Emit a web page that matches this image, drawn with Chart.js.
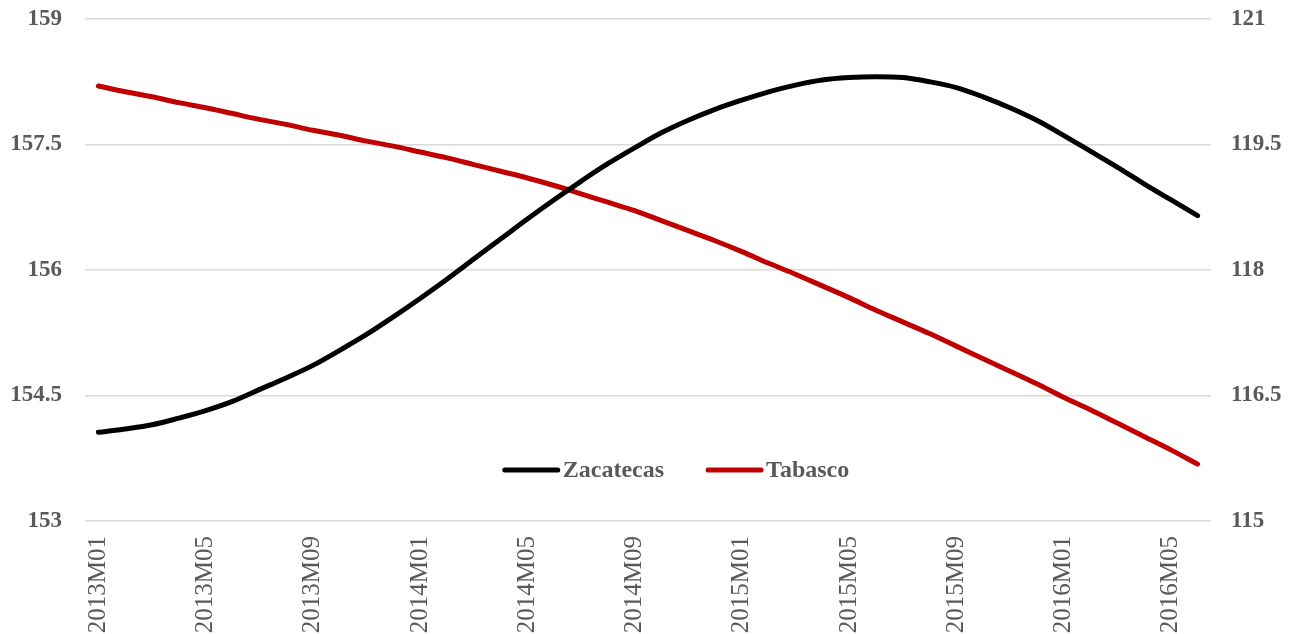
<!DOCTYPE html>
<html>
<head>
<meta charset="utf-8">
<script src="https://cdn.jsdelivr.net/npm/chart.js@4/dist/chart.umd.min.js"></script>
<style>
  html, body { margin: 0; padding: 0; background: #fff; }
  #wrap { width: 1294px; height: 634px; }
</style>
</head>
<body>
<div id="wrap"><canvas id="chart" width="1294" height="634"></canvas></div>
<script>
// Meses 2013M01 .. 2016M06
const months = [
  '2013M01','2013M02','2013M03','2013M04','2013M05','2013M06','2013M07','2013M08','2013M09','2013M10','2013M11','2013M12',
  '2014M01','2014M02','2014M03','2014M04','2014M05','2014M06','2014M07','2014M08','2014M09','2014M10','2014M11','2014M12',
  '2015M01','2015M02','2015M03','2015M04','2015M05','2015M06','2015M07','2015M08','2015M09','2015M10','2015M11','2015M12',
  '2016M01','2016M02','2016M03','2016M04','2016M05','2016M06'
];

// eje izquierdo
const zacatecas = [
  154.06, 154.10, 154.15, 154.23, 154.32, 154.43, 154.57, 154.71, 154.86, 155.04, 155.23, 155.44,
  155.66, 155.89, 156.13, 156.37, 156.61, 156.84, 157.06, 157.27, 157.46, 157.64, 157.79, 157.92,
  158.03, 158.13, 158.21, 158.27, 158.30, 158.31, 158.30, 158.25, 158.18, 158.07, 157.94, 157.79,
  157.61, 157.42, 157.23, 157.03, 156.84, 156.65
];

// eje derecho
const tabasco = [
  120.20, 120.13, 120.07, 120.00, 119.94, 119.87, 119.80, 119.74, 119.67, 119.61, 119.54, 119.48,
  119.41, 119.34, 119.26, 119.18, 119.10, 119.01, 118.91, 118.81, 118.71, 118.59, 118.47, 118.35,
  118.22, 118.08, 117.95, 117.81, 117.67, 117.52, 117.38, 117.24, 117.09, 116.94, 116.79, 116.64,
  116.48, 116.33, 116.17, 116.01, 115.85, 115.68
];

const leftTicks = [153, 154.5, 156, 157.5, 159];
const rightTicks = [115, 116.5, 118, 119.5, 121];

const gray = '#595959';
const serif = "'Liberation Serif', 'Times New Roman', serif";

// leyenda dentro del área de trazado
const innerLegend = {
  id: 'innerLegend',
  afterDraw(chart) {
    const ctx = chart.ctx;
    const area = chart.chartArea;
    const items = chart.data.datasets;
    const lineW = 55, gapText = 5, gapItem = 42;
    ctx.save();
    ctx.font = 'bold 24px ' + serif;
    const widths = items.map((d) => lineW + gapText + ctx.measureText(d.label).width);
    const total = widths.reduce((a, b) => a + b, 0) + gapItem * (items.length - 1);
    let x = (area.left + area.right) / 2 + 28 - total / 2;
    const y = area.bottom - 51;
    items.forEach((d, i) => {
      ctx.strokeStyle = d.borderColor;
      ctx.lineWidth = 5;
      ctx.lineCap = 'round';
      ctx.beginPath();
      ctx.moveTo(x + 2, y);
      ctx.lineTo(x + lineW, y);
      ctx.stroke();
      ctx.fillStyle = gray;
      ctx.textBaseline = 'middle';
      ctx.textAlign = 'left';
      ctx.fillText(d.label, x + lineW + gapText, y + 1);
      x += widths[i] + gapItem;
    });
    ctx.restore();
  }
};

// ancho fijo de los ejes verticales, sin el relleno extra arriba/abajo
const fixY = (w) => (s) => {
  s.width = w;
  s.paddingTop = 0;
  s.paddingBottom = 0;
};

new Chart(document.getElementById('chart'), {
  type: 'line',
  data: {
    labels: months,
    datasets: [
      { label: 'Zacatecas', data: zacatecas, yAxisID: 'y', borderColor: '#000000', borderWidth: 5, pointRadius: 0, tension: 0.35, borderCapStyle: 'round', borderJoinStyle: 'round' },
      { label: 'Tabasco', data: tabasco, yAxisID: 'y1', borderColor: '#C00000', borderWidth: 5, pointRadius: 0, tension: 0.35, borderCapStyle: 'round', borderJoinStyle: 'round' }
    ]
  },
  options: {
    responsive: false,
    animation: false,
    layout: { padding: { top: 19, bottom: 0, left: 0, right: 0 } },
    plugins: { legend: { display: false }, tooltip: { enabled: false } },
    scales: {
      x: {
        offset: true,
        grid: { display: false, drawTicks: false },
        border: { display: false },
        ticks: {
          autoSkip: false,
          minRotation: 90,
          maxRotation: 90,
          padding: 15,
          color: gray,
          font: { family: serif, size: 25 },
          callback: (v, i) => (i % 4 === 0 ? months[i] : '')
        },
        afterFit: (s) => { s.height = 113; }
      },
      y: {
        position: 'left',
        min: 153,
        max: 159,
        afterBuildTicks: (s) => { s.ticks = leftTicks.map((v) => ({ value: v })); },
        grid: { color: '#d9d9d9', lineWidth: 1.5, drawTicks: false },
        border: { display: false },
        ticks: { padding: 23, color: gray, font: { family: serif, size: 23, weight: 'bold' } },
        afterFit: fixY(85)
      },
      y1: {
        position: 'right',
        min: 115,
        max: 121,
        afterBuildTicks: (s) => { s.ticks = rightTicks.map((v) => ({ value: v })); },
        grid: { display: false, drawTicks: false },
        border: { display: false },
        ticks: { padding: 20, color: gray, font: { family: serif, size: 23, weight: 'bold' } },
        afterFit: fixY(83)
      }
    }
  },
  plugins: [innerLegend]
});
</script>
</body>
</html>
